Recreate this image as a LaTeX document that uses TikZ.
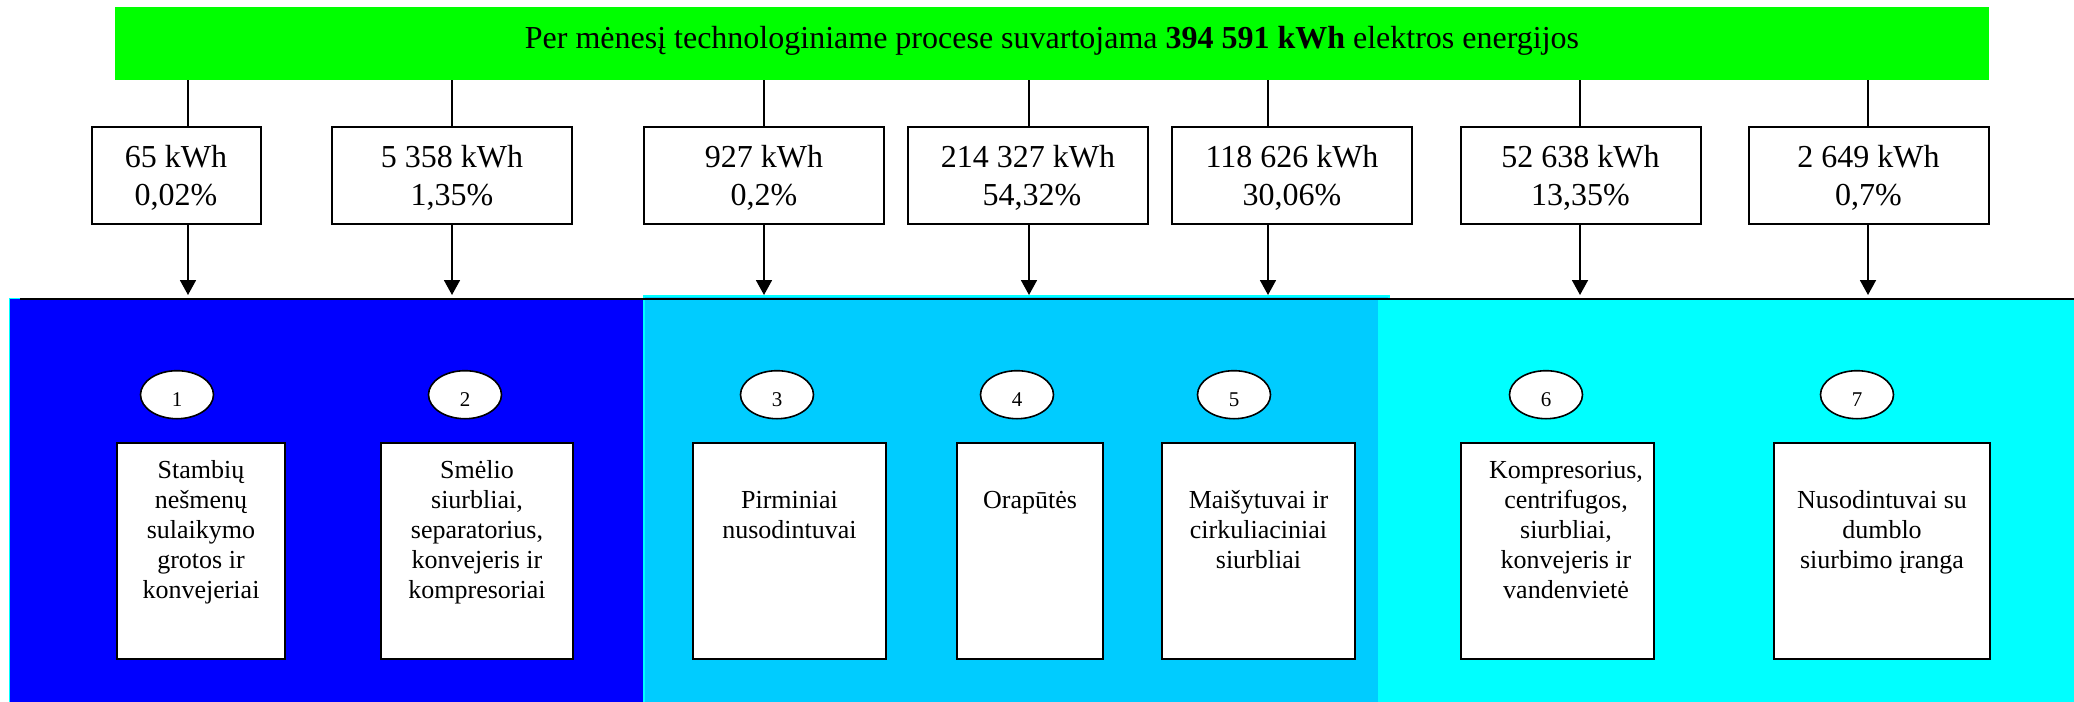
\documentclass[tikz,border=0pt]{standalone}
\usepackage{fontspec}
\setmainfont{Liberation Serif}
\usetikzlibrary{arrows.meta,shapes.geometric}
\definecolor{gbar}{HTML}{00FF00}
\definecolor{zoneA}{HTML}{0000FF}
\definecolor{zoneB}{HTML}{00CCFF}
\definecolor{zoneC}{HTML}{00FFFF}
\newcommand\mlines[2][0pt]{\begin{tabular}[t]{@{\hspace{#1}}c@{}}#2\end{tabular}}
\begin{document}
\begin{tikzpicture}[x=0.5pt,y=-0.5pt,
  headbar/.style={fill=gbar, minimum width=937pt, minimum height=36.5pt, inner sep=0pt,
    font=\fontsize{16}{19.2}\selectfont, text height=12pt, text depth=7.5pt},
  topbox/.style={draw=black, line width=1pt, fill=white, minimum width=120pt, minimum height=48.5pt,
    inner sep=0pt, font=\fontsize{16}{19.2}\selectfont, text height=14pt, text depth=21.9pt},
  devbox/.style={draw=black, line width=1pt, fill=white, minimum height=108pt, inner sep=0pt,
    font=\fontsize{13}{15}\selectfont, text height=11pt, text depth=54pt},
  tallbox/.style={devbox, text depth=84pt},
  num/.style={ellipse, draw=black, line width=0.8pt, fill=white, minimum width=36.5pt,
    minimum height=24pt, inner sep=0pt, font=\fontsize{10.5}{12}\selectfont,
    text height=11.3pt, text depth=0pt},
  feed/.style={line width=0.9pt},
  arr/.style={line width=0.9pt, -{Triangle[length=7.5pt,width=8pt]}}
]
\useasboundingbox (0,0) rectangle (2074,702);

% background zones
\filldraw[fill=zoneA, draw=zoneC, line width=0.6pt] (9.5,298.5) rectangle (644,712);
\filldraw[fill=zoneB, draw=zoneC, line width=1pt] (643.5,295.5) rectangle (1389,712);
\fill[zoneC] (1378,299) rectangle (2080,712);
\draw[line width=1.1pt] (20,299) -- (2080,299);

% header
\node[headbar] (head) at (1052,43.5)
  {Per mėnesį technologiniame procese suvartojama \textbf{394 591 kWh} elektros energijos};

% consumption boxes
\node[topbox, minimum width=84.5pt] (t1) at (176,175.2) {\mlines{65 kWh\\0,02\%}};
\node[topbox] (t2) at (452,175.2) {\mlines{5 358 kWh\\1,35\%}};
\node[topbox] (t3) at (764,175.2) {\mlines{927 kWh\\0,2\%}};
\node[topbox] (t4) at (1028,175.2) {\mlines{214 327 kWh\hspace{4pt}\\\hspace{4pt}54,32\%}};
\node[topbox] (t5) at (1292,175.2) {\mlines{118 626 kWh\\30,06\%}};
\node[topbox] (t6) at (1580.5,175.2) {\mlines{52 638 kWh\\13,35\%}};
\node[topbox] (t7) at (1868.5,175.2) {\mlines{2 649 kWh\\0,7\%}};

% connector columns and arrow tips
\foreach \i/\x in {1/188,2/452,3/764,4/1029,5/1268,6/1580,7/1868}{
  \coordinate (c\i) at (\x,0);
  \coordinate (a\i) at (\x,295);
}
\foreach \i in {1,...,7}{
  \draw[feed] (head.south -| c\i) -- (t\i.north -| c\i);
  \draw[arr] (t\i.south -| c\i) -- (a\i);
}

% numbered ellipses
\node[num] (n1) at (177,394.7) {1};
\node[num] (n2) at (465,394.7) {2};
\node[num] (n3) at (777,394.7) {3};
\node[num] (n4) at (1017,394.7) {4};
\node[num] (n5) at (1234,394.7) {5};
\node[num] (n6) at (1546,394.7) {6};
\node[num] (n7) at (1857,394.7) {7};

% equipment boxes
\node[tallbox, minimum width=84pt] (d1) at (201,551)
  {\mlines{Stambių\\nešmenų\\sulaikymo\\grotos ir\\konvejeriai}};
\node[tallbox, minimum width=96pt] (d2) at (477,551)
  {\mlines{Smėlio\\siurbliai,\\separatorius,\\konvejeris ir\\kompresoriai}};
\node[devbox, minimum width=96.5pt] (d3) at (789.5,551)
  {\mlines{Pirminiai\\nusodintuvai}};
\node[devbox, minimum width=73pt] (d4) at (1030,551)
  {\mlines{Orapūtės}};
\node[devbox, minimum width=96.5pt] (d5) at (1258.5,551)
  {\mlines{Maišytuvai ir\\cirkuliaciniai\\siurbliai}};
\node[tallbox, minimum width=96.5pt] (d6) at (1557.5,551)
  {\mlines[8.5pt]{Kompresorius,\\centrifugos,\\siurbliai,\\konvejeris ir\\vandenvietė}};
\node[devbox, minimum width=108pt] (d7) at (1882,551)
  {\mlines{Nusodintuvai su\\dumblo\\siurbimo įranga}};
\end{tikzpicture}
\end{document}
